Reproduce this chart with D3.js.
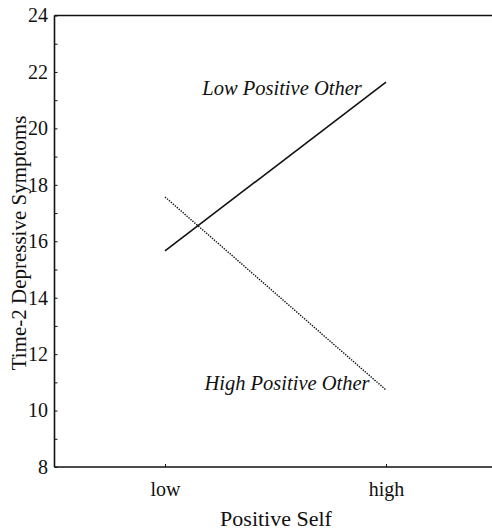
<!DOCTYPE html>
<html><head><meta charset="utf-8">
<script src="https://cdn.jsdelivr.net/npm/d3@7"></script>
<style>body{margin:0;background:#fff}svg{display:block}text{font-family:"Liberation Serif","Times New Roman",serif;fill:#111}</style>
</head><body>
<script>
const categories = ["low", "high"];
const lowPositiveOther = [15.66, 21.64];
const highPositiveOther = [17.57, 10.73];
const yTicks = [8, 10, 12, 14, 16, 18, 20, 22, 24];
const yMinorTicks = [9, 11, 13, 15, 17, 19, 21, 23];
const seriesLabels = ["Low Positive Other", "High Positive Other"];

const W = 492, H = 530;
const FONT = '"Liberation Serif","Times New Roman",serif';
const svg = d3.select("body").append("svg").attr("width", W).attr("height", H);
const x = d3.scaleLinear().domain([-0.5, 1.5]).range([54.5, 496.5]);
const y = d3.scaleLinear().domain([8, 24]).range([467, 15.5]);

const g = svg.append("g");
g.append("line").attr("x1", x(-0.5)).attr("x2", x(-0.5)).attr("y1", y(24)).attr("y2", y(8)).attr("stroke", "#111").attr("stroke-width", 1.6);
g.append("line").attr("x1", x(-0.5)).attr("x2", W).attr("y1", y(24)).attr("y2", y(24)).attr("stroke", "#111").attr("stroke-width", 1.6);
g.append("line").attr("x1", x(-0.5)).attr("x2", W).attr("y1", y(8)).attr("y2", y(8)).attr("stroke", "#111").attr("stroke-width", 1.6);

// y axis
const yAxis = d3.axisLeft(y).tickValues(yTicks).tickSize(-3).tickFormat(d3.format("d"));
const ya = svg.append("g").attr("transform", `translate(${x(-0.5)},0)`).call(yAxis)
  .attr("font-family", FONT);
ya.select(".domain").remove();
ya.selectAll("text").attr("font-size", 20).attr("x", -6.5).attr("fill", "#111");
ya.selectAll("line").attr("stroke", "#111");
const yAxisMinor = d3.axisLeft(y).tickValues(yMinorTicks).tickSize(-3).tickFormat("");
const ym = svg.append("g").attr("transform", `translate(${x(-0.5)},0)`).call(yAxisMinor);
ym.select(".domain").remove();
ym.selectAll("line").attr("stroke", "#111");

// x axis
const xAxis = d3.axisBottom(x).tickValues([0, 1]).tickSize(-3).tickFormat(i => categories[i]);
const xa = svg.append("g").attr("transform", `translate(0,${y(8)})`).call(xAxis)
  .attr("font-family", FONT);
xa.select(".domain").remove();
xa.selectAll("text").attr("font-size", 20).attr("y", 29).attr("dy", 0).attr("fill", "#111");
xa.selectAll("line").attr("stroke", "#111");

// axis titles
svg.append("text").attr("x", 276).attr("y", 526).attr("text-anchor", "middle").attr("font-size", 22).text("Positive Self");
svg.append("text").attr("transform", `translate(26,${243}) rotate(-90)`).attr("text-anchor", "middle").attr("font-size", 21).text("Time-2 Depressive Symptoms");

// lines
const line = d3.line().x((d, i) => x(i)).y(d => y(d));
svg.append("path").datum(lowPositiveOther).attr("d", line).attr("fill", "none").attr("stroke", "#111").attr("stroke-width", 1.6);
svg.append("path").datum(highPositiveOther).attr("d", line).attr("fill", "none").attr("stroke", "#111").attr("stroke-width", 1.4).attr("stroke-dasharray", "1.4,1.2");

// series labels
svg.append("text").attr("x", 282).attr("y", 95).attr("text-anchor", "middle").attr("font-style", "italic").attr("font-size", 20.5).text(seriesLabels[0]);
svg.append("text").attr("x", 287).attr("y", 390).attr("text-anchor", "middle").attr("font-style", "italic").attr("font-size", 20.5).text(seriesLabels[1]);
</script>
</body></html>
